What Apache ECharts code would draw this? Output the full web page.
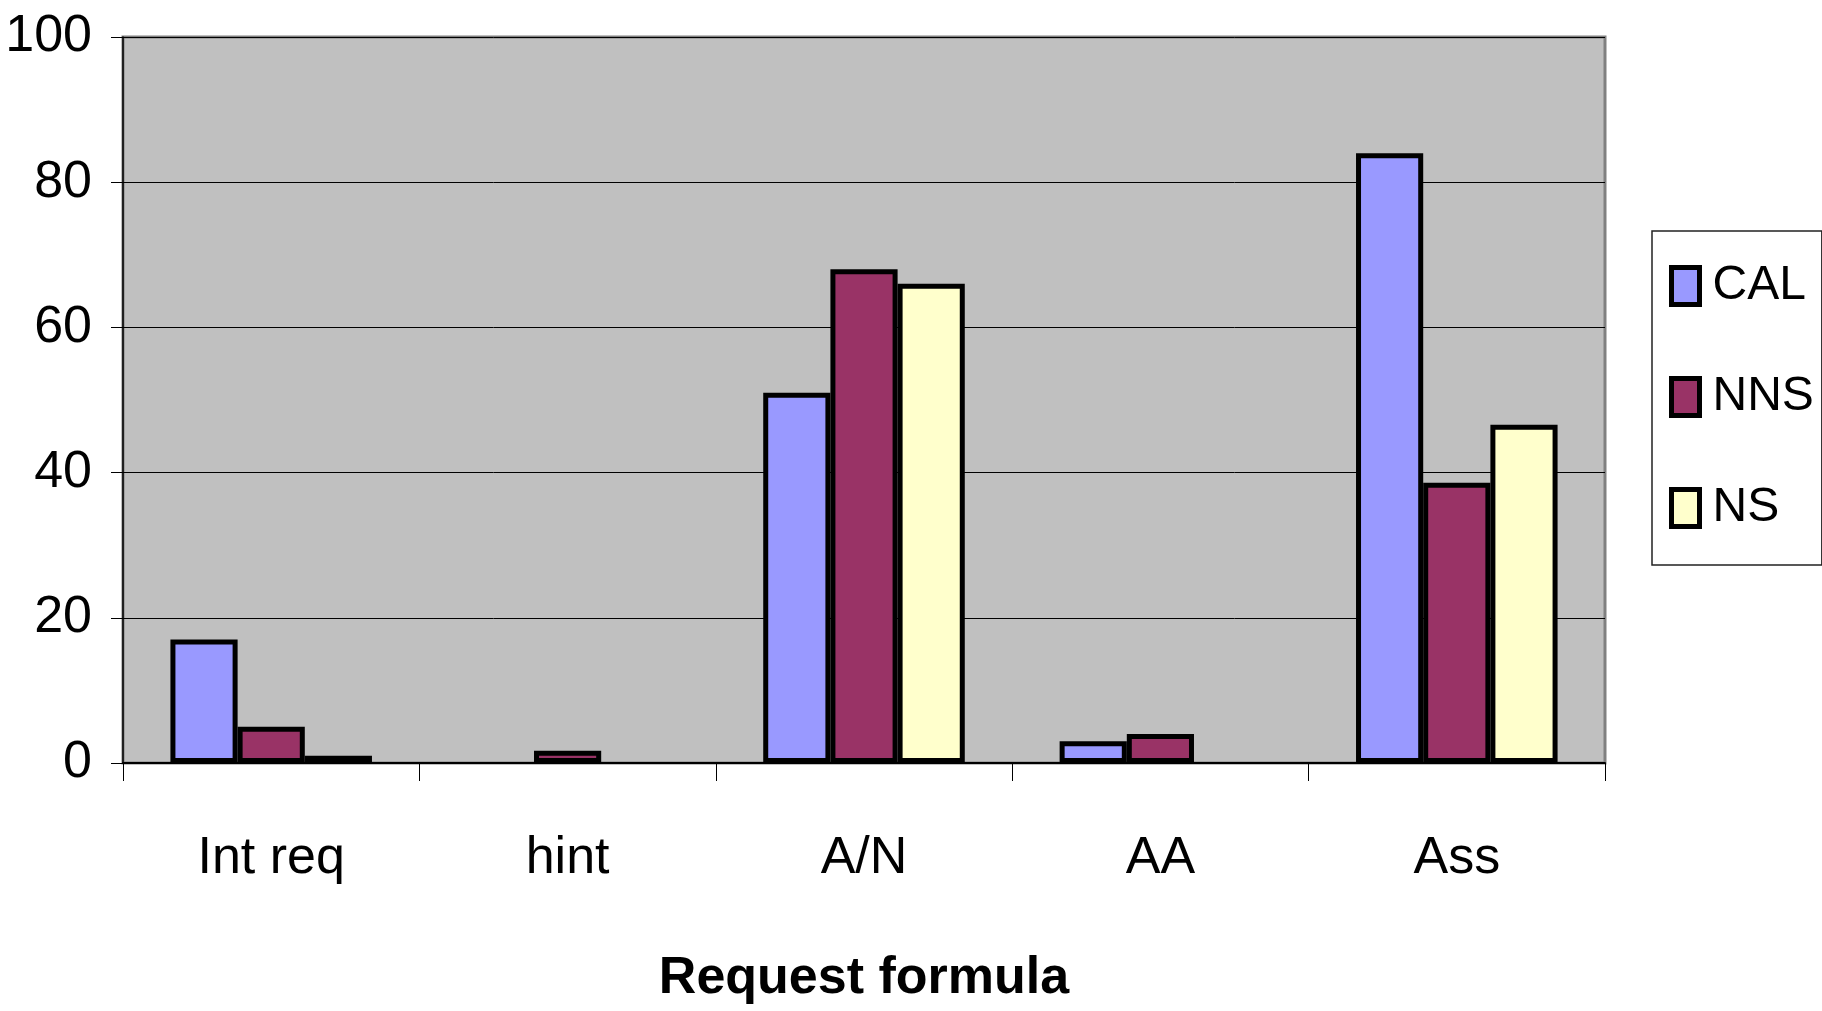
<!DOCTYPE html>
<html>
<head>
<meta charset="utf-8">
<script src="https://cdn.jsdelivr.net/npm/echarts@6/dist/echarts.min.js"></script>
<style>
html,body{margin:0;padding:0;background:#fff;}
#chart{width:1822px;height:1011px;}
</style>
</head>
<body>
<div id="chart"></div>
<script>
var categories = ['Int req', 'hint', 'A/N', 'AA', 'Ass'];
var seriesNames = ['CAL', 'NNS', 'NS'];
var calValues = [17, 0, 51, 3, 84];
var nnsValues = [5, 1.7, 68, 4, 38.6];
var nsValues = [1, 0, 66, 0, 46.6];
var yTicks = { min: 0, max: 100, interval: 20 };
var xTitle = 'Request formula';

var FONT = "'Liberation Sans', Arial, sans-serif";
var colors = ['#9999FF', '#993366', '#FFFFCC'];
var dataSets = [calValues, nnsValues, nsValues];

var chart = echarts.init(document.getElementById('chart'), null, { renderer: 'canvas' });
var series = seriesNames.map(function (name, i) {
  return {
    name: name,
    type: 'bar',
    data: dataSets[i].map(function (v) { return v === 0 ? '-' : v; }),
    barGap: '0%',
    barCategoryGap: '32%',
    itemStyle: { color: colors[i], borderColor: '#000', borderWidth: 5 },
    emphasis: { disabled: true }
  };
});

chart.setOption({
  animation: false,
  textStyle: { fontFamily: FONT },
  grid: {
    left: 123, top: 37, width: 1482, height: 726,
    outerBoundsMode: 'none',
    containLabel: false,
    show: true, backgroundColor: '#C0C0C0', borderColor: '#808080', borderWidth: 3
  },
  legend: {
    orient: 'vertical',
    left: 1652, top: 231,
    backgroundColor: '#fff',
    borderColor: '#222', borderWidth: 1.5,
    padding: [25, 8, 27, 17],
    itemWidth: 28, itemHeight: 37,
    itemGap: 51,
    icon: 'rect',
    itemStyle: { borderColor: '#000', borderWidth: 5 },
    textStyle: { fontFamily: FONT, fontSize: 48, color: '#000', lineHeight: 60, padding: [0, 0, 0, 8] },
    data: seriesNames
  },
  xAxis: {
    type: 'category',
    data: categories,
    axisLine: { show: true, lineStyle: { color: '#000', width: 2 } },
    axisTick: { show: true, interval: 0, length: 18, lineStyle: { color: '#000', width: 1 } },
    axisLabel: { interval: 0, margin: 70, fontSize: 52, color: '#000', fontFamily: FONT },
    name: xTitle,
    nameLocation: 'middle',
    nameGap: 190,
    nameTextStyle: { fontSize: 52, fontWeight: 'bold', color: '#000', fontFamily: FONT },
    splitLine: { show: false }
  },
  yAxis: {
    type: 'value',
    min: yTicks.min, max: yTicks.max, interval: yTicks.interval,
    axisLine: { show: true, lineStyle: { color: '#000', width: 1.5 } },
    axisTick: { show: true, length: 12, lineStyle: { color: '#000', width: 1 } },
    axisLabel: { margin: 31, fontSize: 52, color: '#000', fontFamily: FONT },
    splitLine: { show: true, lineStyle: { color: '#000', width: 1 } }
  },
  series: series
});
</script>
</body>
</html>
